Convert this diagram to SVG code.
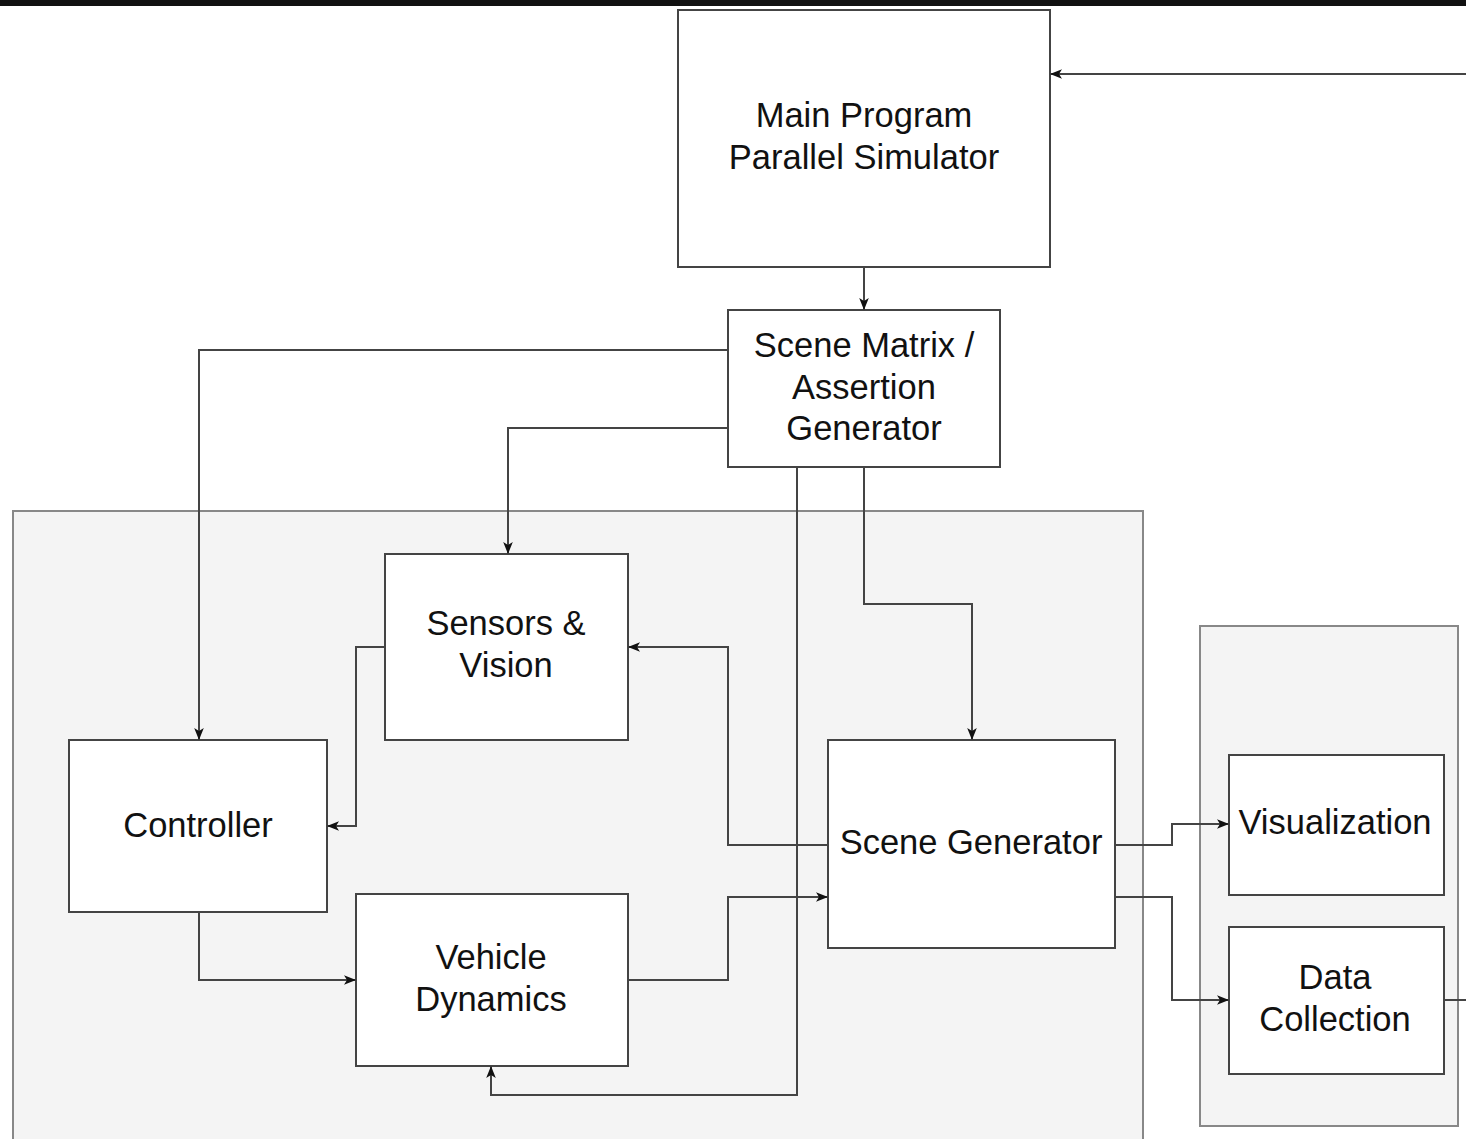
<svg xmlns="http://www.w3.org/2000/svg" width="1466" height="1139" viewBox="0 0 1466 1139">
<defs>
<marker id="ah" viewBox="0 0 10 10" refX="10" refY="5" markerWidth="12" markerHeight="12" markerUnits="userSpaceOnUse" orient="auto">
<path d="M0,1 L10,5 L0,9 L2.5,5 Z" fill="#111"/>
</marker>
<style>
.box{fill:#fff;stroke:#444;stroke-width:2}
.grp{fill:#f4f4f4;stroke:#888;stroke-width:2}
.t{font-family:"Liberation Sans",Arial,sans-serif;font-size:34.5px;fill:#111;text-anchor:middle}
.c{fill:none;stroke:#444;stroke-width:2}
.a{marker-end:url(#ah)}
</style>
</defs>
<rect width="1466" height="1139" fill="#fff"/>
<rect x="0" y="0" width="1466" height="6" fill="#111"/>
<g id="group-sim"><rect class="grp" x="13" y="511" width="1130" height="640"/></g>
<g id="group-out"><rect class="grp" x="1200" y="626" width="258" height="500"/></g>
<g id="main-program"><rect class="box" x="678" y="10" width="372" height="257"/>
<text class="t" x="864" y="127">Main Program</text><text class="t" x="864" y="169">Parallel Simulator</text></g>
<g id="scene-matrix"><rect class="box" x="728" y="310" width="272" height="157"/>
<text class="t" x="864" y="357">Scene Matrix /</text><text class="t" x="864" y="399">Assertion</text><text class="t" x="864" y="440">Generator</text></g>
<g id="sensors"><rect class="box" x="385" y="554" width="243" height="186"/>
<text class="t" x="506" y="635">Sensors &amp;</text><text class="t" x="506" y="677">Vision</text></g>
<g id="controller"><rect class="box" x="69" y="740" width="258" height="172"/>
<text class="t" x="198" y="837">Controller</text></g>
<g id="vehicle"><rect class="box" x="356" y="894" width="272" height="172"/>
<text class="t" x="491" y="969">Vehicle</text><text class="t" x="491" y="1011">Dynamics</text></g>
<g id="scene-generator"><rect class="box" x="828" y="740" width="287" height="208"/>
<text class="t" x="971" y="854">Scene Generator</text></g>
<g id="visualization"><rect class="box" x="1229" y="755" width="215" height="140"/>
<text class="t" x="1335" y="834">Visualization</text></g>
<g id="data-collection"><rect class="box" x="1229" y="927" width="215" height="147"/>
<text class="t" x="1335" y="989">Data</text><text class="t" x="1335" y="1031">Collection</text></g>
<g id="connectors">
<path class="c a" d="M864,267 V310"/>
<path class="c a" d="M1466,74 H1050"/>
<path class="c a" d="M728,350 H199 V740"/>
<path class="c a" d="M728,428 H508 V554"/>
<path class="c a" d="M797,467 V1095 H491 V1066"/>
<path class="c a" d="M864,467 V604 H972 V740"/>
<path class="c a" d="M828,845 H728 V647 H628"/>
<path class="c a" d="M385,647 H356 V826 H327"/>
<path class="c a" d="M199,912 V980 H356"/>
<path class="c a" d="M628,980 H728 V897 H828"/>
<path class="c a" d="M1115,845 H1172 V824 H1229"/>
<path class="c a" d="M1115,897 H1172 V1000 H1229"/>
<path class="c" d="M1444,1000 H1466"/>
</g>
</svg>
